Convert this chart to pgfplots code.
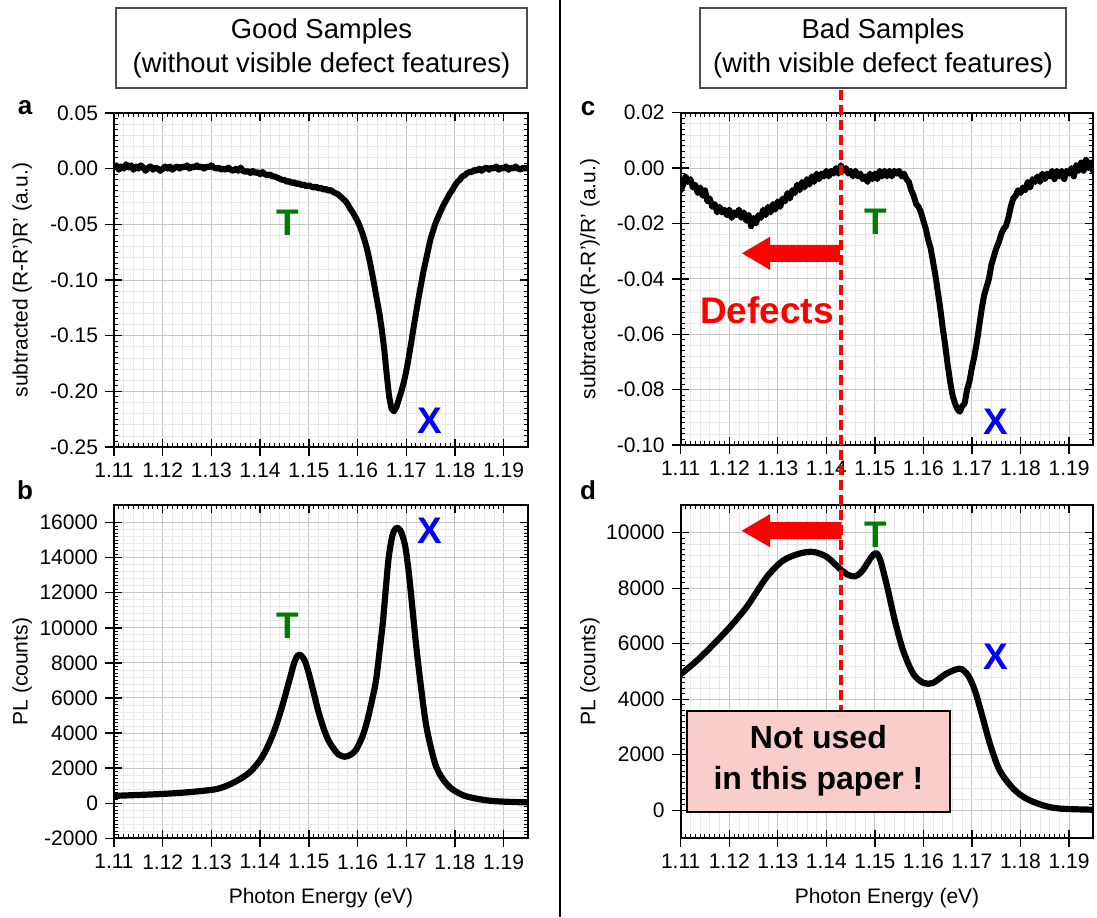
\documentclass[border=0pt]{standalone}
\usepackage{fontspec}
\setmainfont{Liberation Sans}
\usepackage{pgfplots}
\pgfplotsset{compat=1.18}
\definecolor{tgreen}{RGB}{0,125,0}
\definecolor{xblue}{RGB}{0,0,255}
\definecolor{pinkbox}{RGB}{250,205,205}
\definecolor{arrred}{RGB}{255,0,0}

\pgfplotsset{
  panel/.style={
    scale only axis, anchor=south west,
    xmin=1.11, xmax=1.195,
    xtick={1.11,1.12,1.13,1.14,1.15,1.16,1.17,1.18,1.19},
    xticklabels={1.11,1.12,1.13,1.14,1.15,1.16,1.17,1.18,1.19},
    scaled y ticks=false, scaled x ticks=false,
    minor x tick num=4, minor y tick num=4,
    grid=both,
    major grid style={draw=black!22, line width=0.5pt},
    minor grid style={draw=black!9, line width=0.35pt},
    axis line style={line width=1.1pt},
    tick align=outside, xtick pos=bottom, ytick pos=left,
    major tick length=4.5pt, minor tick length=0pt,
    major tick style={black, line width=0.7pt},
    ticklabel style={font=\fontsize{10.5}{12}\selectfont},
    label style={font=\fontsize{10.5}{12}\selectfont},
    ylabel style={at={(axis description cs:-0.222,0.5)}, anchor=center},
    xlabel style={at={(axis description cs:0.5,-0.18)}, anchor=center},
  },
  mirror/.style={
    scale only axis, anchor=south west,
    xmin=1.11, xmax=1.195,
    xtick={1.11,1.12,1.13,1.14,1.15,1.16,1.17,1.18,1.19},
    xticklabels={}, yticklabels={},
    scaled y ticks=false, scaled x ticks=false,
    minor x tick num=9, minor y tick num=9,
    axis line style={line width=1.1pt},
    tick align=inside,
    major tick length=4pt, minor tick length=2.2pt,
    major tick style={black, line width=0.7pt},
    minor tick style={black, line width=0.5pt},
  },
  curve/.style={black, line width=2.8pt, line join=round, line cap=round, mark=none},
}

\begin{document}
\begin{tikzpicture}
\useasboundingbox (0,0) rectangle (548.5pt,458.5pt);

% ---------------- panel a ----------------
\begin{axis}[panel, at={(57pt,235pt)}, width=207pt, height=167pt,
  ymin=-0.25, ymax=0.05,
  ytick={-0.25,-0.2,-0.15,-0.1,-0.05,0,0.05},
  yticklabels={-0.25,-0.20,-0.15,-0.10,-0.05,0.00,0.05},
  ylabel={subtracted (R-R')R' (a.u.)}]
\addplot[curve, line width=3pt] coordinates {
(1.1100,0.001)(1.1105,0.003)(1.1110,-0.001)(1.1115,0.002)(1.1120,0.000)(1.1125,0.004)
(1.1130,0.001)(1.1135,0.003)(1.1140,-0.001)(1.1145,0.002)(1.1150,0.000)(1.1155,0.003)
(1.1160,0.001)(1.1165,-0.002)(1.1170,0.001)(1.1175,0.002)(1.1180,-0.001)(1.1185,0.001)
(1.1190,0.000)(1.1195,-0.002)(1.1200,0.000)(1.1205,0.002)(1.1210,0.000)(1.1215,0.002)
(1.1220,-0.001)(1.1225,0.001)(1.1230,0.002)(1.1235,0.000)(1.1240,0.002)(1.1245,0.001)
(1.1250,0.003)(1.1255,0.000)(1.1260,0.002)(1.1265,0.001)(1.1270,0.003)(1.1275,0.001)
(1.1280,0.002)(1.1285,0.000)(1.1290,0.002)(1.1295,0.001)(1.1300,0.003)(1.1305,0.001)
(1.1310,0.000)(1.1315,0.001)(1.1320,-0.001)(1.1325,0.000)(1.1330,-0.001)(1.1335,0.001)
(1.1340,-0.001)(1.1345,-0.002)(1.1350,0.000)(1.1355,-0.002)(1.1360,0.001)(1.1365,-0.002)
(1.1370,-0.003)(1.1375,-0.002)(1.1380,-0.004)(1.1385,-0.002)(1.1390,-0.004)(1.1395,-0.003)
(1.1400,-0.005)(1.1405,-0.003)(1.1410,-0.005)(1.1415,-0.006)(1.1420,-0.005)(1.1425,-0.007)
(1.1430,-0.007)(1.1435,-0.008)(1.1440,-0.009)(1.1445,-0.010)(1.1450,-0.010)(1.1455,-0.012)
(1.1460,-0.011)(1.1465,-0.013)(1.1470,-0.012)(1.1475,-0.014)(1.1480,-0.013)(1.1485,-0.015)
(1.1490,-0.014)(1.1495,-0.016)(1.1500,-0.015)(1.1505,-0.016)(1.1510,-0.017)(1.1515,-0.016)
(1.1520,-0.018)(1.1525,-0.017)(1.1530,-0.019)(1.1535,-0.018)(1.1540,-0.020)(1.1545,-0.019)
(1.1550,-0.021)(1.1555,-0.022)(1.1560,-0.023)(1.1565,-0.025)(1.1570,-0.027)(1.1575,-0.029)
(1.1580,-0.032)(1.1585,-0.036)(1.1590,-0.039)(1.1595,-0.043)(1.1600,-0.047)(1.1605,-0.052)
(1.1610,-0.058)(1.1615,-0.065)(1.1620,-0.073)(1.1625,-0.083)(1.1630,-0.094)(1.1635,-0.106)
(1.1640,-0.118)(1.1645,-0.130)(1.1650,-0.145)(1.1655,-0.163)(1.1660,-0.185)(1.1665,-0.205)
(1.1670,-0.216)(1.1675,-0.218)(1.1680,-0.214)(1.1685,-0.207)(1.1690,-0.200)(1.1695,-0.192)
(1.1700,-0.182)(1.1705,-0.170)(1.1710,-0.157)(1.1715,-0.143)(1.1720,-0.130)(1.1725,-0.117)
(1.1730,-0.105)(1.1735,-0.093)(1.1740,-0.083)(1.1745,-0.073)(1.1750,-0.063)(1.1755,-0.056)
(1.1760,-0.049)(1.1765,-0.044)(1.1770,-0.039)(1.1775,-0.034)(1.1780,-0.030)(1.1785,-0.026)
(1.1790,-0.022)(1.1795,-0.019)(1.1800,-0.015)(1.1805,-0.012)(1.1810,-0.010)(1.1815,-0.007)
(1.1820,-0.006)(1.1825,-0.004)(1.1830,-0.003)(1.1835,-0.003)(1.1840,-0.001)(1.1845,-0.002)
(1.1850,0.000)(1.1855,-0.002)(1.1860,0.000)(1.1865,0.001)(1.1870,-0.001)(1.1875,0.001)
(1.1880,0.000)(1.1885,0.002)(1.1890,-0.001)(1.1895,0.001)(1.1900,0.000)(1.1905,0.002)
(1.1910,-0.001)(1.1915,0.001)(1.1920,0.000)(1.1925,0.002)(1.1930,0.000)(1.1935,-0.001)
(1.1940,0.001)(1.1945,0.000)(1.1949,0.001)
};
\node[text=tgreen, font=\bfseries\fontsize{18.5}{18}\selectfont] at (axis cs:1.1457,-0.0487) {T};
\node[text=xblue, font=\bfseries\fontsize{18.5}{18}\selectfont] at (axis cs:1.1748,-0.226) {X};
\end{axis}
\begin{axis}[mirror, at={(57pt,235pt)}, width=207pt, height=167pt,
  ymin=-0.25, ymax=0.05, ytick={-0.25,-0.2,-0.15,-0.1,-0.05,0,0.05}]
\end{axis}

% ---------------- panel b ----------------
\begin{axis}[panel, at={(57pt,39.35pt)}, width=207pt, height=166.65pt,
  ymin=-2000, ymax=17000,
  ytick={-2000,0,2000,4000,6000,8000,10000,12000,14000,16000},
  yticklabels={-2000,0,2000,4000,6000,8000,10000,12000,14000,16000},
  ylabel={PL (counts)}, xlabel={Photon Energy (eV)}]
\addplot[curve, line width=3.1pt, smooth] coordinates {
(1.1100,420)(1.1150,470)(1.1200,530)(1.1250,620)(1.1300,760)(1.1320,880)(1.1340,1100)
(1.1360,1400)(1.1380,1800)(1.1400,2450)(1.1415,3200)(1.1430,4200)(1.1445,5500)
(1.1460,7000)(1.1470,8000)(1.1478,8450)(1.1485,8400)(1.1492,8100)(1.1500,7400)
(1.1510,6300)(1.1520,5200)(1.1530,4300)(1.1540,3600)(1.1550,3150)(1.1560,2800)
(1.1573,2650)(1.1585,2750)(1.1597,3050)(1.1610,3800)(1.1620,4700)(1.1630,5900)
(1.1638,7000)(1.1645,8600)(1.1652,10300)(1.1658,12200)(1.1664,14000)(1.1672,15300)
(1.1680,15700)(1.1688,15550)(1.1695,15000)(1.1700,14300)(1.1707,12700)(1.1720,9100)
(1.1730,6700)(1.1740,4600)(1.1750,3250)(1.1760,2200)(1.1770,1600)(1.1780,1200)
(1.1790,900)(1.1800,700)(1.1820,420)(1.1850,230)(1.1880,120)(1.1920,70)(1.1949,50)
};
\node[text=tgreen, font=\bfseries\fontsize{18.5}{18}\selectfont] at (axis cs:1.1457,10095) {T};
\node[text=xblue, font=\bfseries\fontsize{18.5}{18}\selectfont] at (axis cs:1.1748,15524) {X};
\end{axis}
\begin{axis}[mirror, at={(57pt,39.35pt)}, width=207pt, height=166.65pt,
  ymin=-2000, ymax=17000, ytick={-2000,0,2000,4000,6000,8000,10000,12000,14000,16000}]
\end{axis}

% ---------------- panel c ----------------
\begin{axis}[panel, at={(340.35pt,236pt)}, width=206.3pt, height=166.15pt,
  ymin=-0.10, ymax=0.02,
  ytick={-0.1,-0.08,-0.06,-0.04,-0.02,0,0.02},
  yticklabels={-0.10,-0.08,-0.06,-0.04,-0.02,0.00,0.02},
  ylabel={subtracted (R-R')/R' (a.u.)},
  ylabel style={at={(axis description cs:-0.22,0.5)}}]
\addplot[curve, line width=3pt] coordinates {
(1.1100,-0.008)(1.1105,-0.006)(1.1110,-0.003)(1.1115,-0.005)(1.1120,-0.004)(1.1125,-0.007)
(1.1130,-0.006)(1.1135,-0.009)(1.1140,-0.007)(1.1145,-0.010)(1.1150,-0.008)(1.1155,-0.012)
(1.1160,-0.011)(1.1165,-0.014)(1.1170,-0.013)(1.1175,-0.016)(1.1180,-0.014)(1.1185,-0.016)
(1.1190,-0.015)(1.1195,-0.017)(1.1200,-0.015)(1.1205,-0.018)(1.1210,-0.016)(1.1215,-0.017)
(1.1220,-0.015)(1.1225,-0.018)(1.1230,-0.016)(1.1235,-0.019)(1.1240,-0.017)(1.1245,-0.021)
(1.1250,-0.018)(1.1255,-0.020)(1.1260,-0.017)(1.1265,-0.018)(1.1270,-0.015)(1.1275,-0.017)
(1.1280,-0.014)(1.1285,-0.016)(1.1290,-0.013)(1.1295,-0.015)(1.1300,-0.012)(1.1305,-0.014)
(1.1310,-0.011)(1.1315,-0.012)(1.1320,-0.009)(1.1325,-0.011)(1.1330,-0.008)(1.1335,-0.009)
(1.1340,-0.006)(1.1345,-0.008)(1.1350,-0.005)(1.1355,-0.007)(1.1360,-0.004)(1.1365,-0.006)
(1.1370,-0.003)(1.1375,-0.005)(1.1380,-0.002)(1.1385,-0.004)(1.1390,-0.002)(1.1395,-0.003)
(1.1400,-0.001)(1.1405,-0.003)(1.1410,-0.001)(1.1415,-0.002)(1.1420,0.000)(1.1425,-0.002)
(1.1430,0.001)(1.1435,-0.001)(1.1440,0.000)(1.1445,-0.002)(1.1450,-0.001)(1.1455,-0.003)
(1.1460,-0.001)(1.1465,-0.003)(1.1470,-0.002)(1.1475,-0.004)(1.1480,-0.003)(1.1485,-0.005)
(1.1490,-0.002)(1.1495,-0.004)(1.1500,-0.002)(1.1505,-0.004)(1.1510,-0.001)(1.1515,-0.003)
(1.1520,-0.001)(1.1525,-0.003)(1.1530,-0.001)(1.1535,-0.003)(1.1540,-0.001)(1.1545,-0.002)
(1.1550,-0.001)(1.1555,-0.003)(1.1560,-0.002)(1.1565,-0.004)(1.1570,-0.005)(1.1575,-0.008)
(1.1580,-0.010)(1.1585,-0.013)(1.1590,-0.014)(1.1595,-0.016)(1.1600,-0.019)(1.1605,-0.022)
(1.1610,-0.026)(1.1615,-0.029)(1.1620,-0.034)(1.1625,-0.039)(1.1630,-0.045)(1.1635,-0.051)
(1.1640,-0.058)(1.1645,-0.064)(1.1650,-0.071)(1.1655,-0.077)(1.1660,-0.082)(1.1665,-0.085)
(1.1670,-0.087)(1.1675,-0.088)(1.1680,-0.086)(1.1685,-0.085)(1.1690,-0.080)(1.1695,-0.077)
(1.1700,-0.072)(1.1705,-0.068)(1.1710,-0.063)(1.1715,-0.057)(1.1720,-0.051)(1.1725,-0.046)
(1.1730,-0.043)(1.1735,-0.040)(1.1740,-0.035)(1.1745,-0.032)(1.1750,-0.029)(1.1755,-0.027)
(1.1760,-0.024)(1.1765,-0.022)(1.1770,-0.021)(1.1775,-0.018)(1.1780,-0.014)(1.1785,-0.011)
(1.1790,-0.010)(1.1795,-0.008)(1.1800,-0.009)(1.1805,-0.007)(1.1810,-0.008)(1.1815,-0.005)
(1.1820,-0.007)(1.1825,-0.004)(1.1830,-0.005)(1.1835,-0.003)(1.1840,-0.005)(1.1845,-0.002)
(1.1850,-0.004)(1.1855,-0.002)(1.1860,-0.003)(1.1865,-0.001)(1.1870,-0.004)(1.1875,-0.001)
(1.1880,-0.003)(1.1885,-0.001)(1.1890,-0.004)(1.1895,-0.001)(1.1900,-0.002)(1.1905,0.000)
(1.1910,-0.003)(1.1915,0.001)(1.1920,-0.001)(1.1925,0.002)(1.1930,-0.001)(1.1935,0.003)
(1.1940,0.000)(1.1945,0.002)(1.1949,-0.001)
};
\node[text=tgreen, font=\bfseries\fontsize{18.5}{18}\selectfont] at (axis cs:1.1502,-0.0193) {T};
\node[text=xblue, font=\bfseries\fontsize{18.5}{18}\selectfont] at (axis cs:1.1750,-0.0916) {X};
\end{axis}
\begin{axis}[mirror, at={(340.35pt,236pt)}, width=206.3pt, height=166.15pt,
  ymin=-0.10, ymax=0.02, ytick={-0.1,-0.08,-0.06,-0.04,-0.02,0,0.02}]
\end{axis}

% ---------------- panel d ----------------
\begin{axis}[panel, at={(340.35pt,39.5pt)}, width=206.3pt, height=166.5pt,
  ymin=-1000, ymax=11000,
  ytick={0,2000,4000,6000,8000,10000},
  yticklabels={0,2000,4000,6000,8000,10000},
  ylabel={PL (counts)}, xlabel={Photon Energy (eV)},
  ylabel style={at={(axis description cs:-0.22,0.5)}}]
\addplot[curve, line width=3.1pt, smooth] coordinates {
(1.1100,4900)(1.1140,5500)(1.1195,6480)(1.1236,7330)(1.1277,8400)(1.1311,9000)
(1.1345,9250)(1.1373,9310)(1.1401,9130)(1.1428,8700)(1.1445,8480)(1.1459,8430)
(1.1470,8550)(1.1479,8750)(1.1493,9130)(1.1502,9270)(1.1508,9150)(1.1514,8850)
(1.1527,7930)(1.1541,6850)(1.1558,5770)(1.1579,4920)(1.1600,4590)(1.1620,4590)
(1.1647,4920)(1.1675,5100)(1.1692,4860)(1.1706,4320)(1.1720,3480)(1.1737,2400)
(1.1757,1440)(1.1785,780)(1.1812,420)(1.1846,180)(1.1881,60)(1.1949,20)
};
\node[text=tgreen, font=\bfseries\fontsize{18.5}{18}\selectfont] at (axis cs:1.1502,9910) {T};
\node[text=xblue, font=\bfseries\fontsize{18.5}{18}\selectfont] at (axis cs:1.1750,5526) {X};
\end{axis}
\begin{axis}[mirror, at={(340.35pt,39.5pt)}, width=206.3pt, height=166.5pt,
  ymin=-1000, ymax=11000, ytick={0,2000,4000,6000,8000,10000}]
\end{axis}

% ---------------- decorations ----------------
\draw[line width=1pt] (280pt,0pt) -- (280pt,458.5pt);

\node[draw=black!70, line width=0.8pt, minimum width=205.5pt, minimum height=40pt,
  inner sep=0pt, align=center, font=\fontsize{13.7}{16.8}\selectfont]
  at (160.75pt,434.35pt) {Good Samples\\(without visible defect features)};
\node[draw=black!70, line width=0.8pt, minimum width=183pt, minimum height=40pt,
  inner sep=0pt, align=center, font=\fontsize{13.7}{16.8}\selectfont]
  at (441.5pt,434.35pt) {Bad Samples\\(with visible defect features)};

\node[font=\bfseries\fontsize{13}{13}\selectfont] at (12.5pt,404.5pt) {a};
\node[font=\bfseries\fontsize{13}{13}\selectfont] at (12.5pt,213.5pt) {b};
\node[font=\bfseries\fontsize{13}{13}\selectfont] at (294pt,404pt) {c};
\node[font=\bfseries\fontsize{13}{13}\selectfont] at (294pt,213.5pt) {d};

\draw[arrred, line width=1.6pt, dash pattern=on 5pt off 2.5pt] (420.5pt,413.5pt) -- (420.5pt,103pt);

\fill[arrred] (420pt,336.1pt) -- (385pt,336.1pt) -- (385pt,340.1pt) -- (371pt,331.85pt)
  -- (385pt,323.6pt) -- (385pt,327.6pt) -- (420pt,327.6pt) -- cycle;
\fill[arrred] (420.85pt,197.4pt) -- (385pt,197.4pt) -- (385pt,201.4pt) -- (370.85pt,193.15pt)
  -- (385pt,184.9pt) -- (385pt,188.9pt) -- (420.85pt,188.9pt) -- cycle;

\node[text=arrred, font=\bfseries\fontsize{18.5}{18}\selectfont] at (383.5pt,303.5pt) {Defects};

\node[draw=black, line width=1pt, fill=pinkbox, minimum width=131.65pt, minimum height=50.5pt,
  inner sep=0pt, align=center, font=\bfseries\fontsize{16}{20.5}\selectfont]
  at (409.2pt,77.9pt) {Not used\\in this paper !};
\end{tikzpicture}
\end{document}
